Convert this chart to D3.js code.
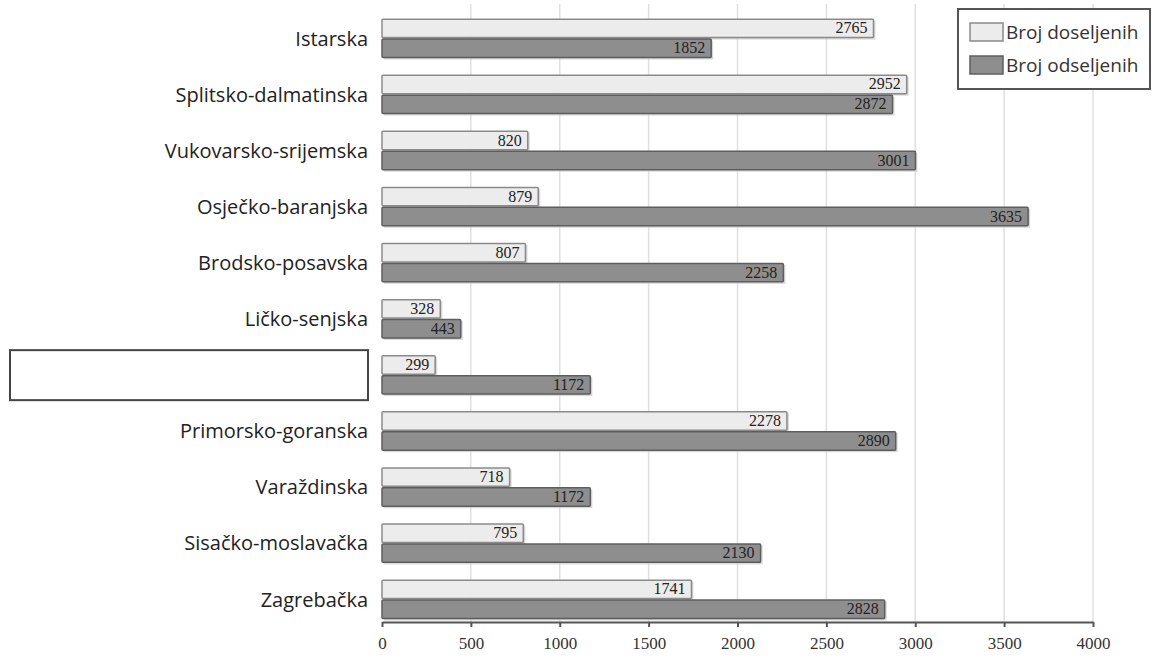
<!DOCTYPE html>
<html>
<head>
<meta charset="utf-8">
<script src="https://cdn.jsdelivr.net/npm/d3@7"></script>
<style>
  body { margin: 0; background: #fff; }
  svg { display: block; }
</style>
</head>
<body>
<svg id="chart" width="1152" height="657"></svg>
<script>
// counties, top to bottom (7th label is covered by an empty box in the original)
var counties = ["Istarska", "Splitsko-dalmatinska", "Vukovarsko-srijemska", "Osječko-baranjska",
	"Brodsko-posavska", "Ličko-senjska", "", "Primorsko-goranska", "Varaždinska",
	"Sisačko-moslavačka", "Zagrebačka"]
var doseljeni = [2765, 2952, 820, 879, 807, 328, 299, 2278, 718, 795, 1741]
var odseljeni = [1852, 2872, 3001, 3635, 2258, 443, 1172, 2890, 1172, 2130, 2828]
var seriesNames = ["Broj doseljenih", "Broj odseljenih"]
var xTicks = [0, 500, 1000, 1500, 2000, 2500, 3000, 3500, 4000]

var svg = d3.select("#chart")
var fills = ["#ececec", "#8e8e8e"]
var strokes = ["#8a8a8a", "#5e5e5e"]

var x = d3.scaleLinear().domain([0, 4000]).range([382, 1093])
var y = d3.scaleBand().domain(counties).range([10.5, 627.6]).paddingInner(0.29).paddingOuter(0.145)
var ySub = d3.scaleBand().domain([0, 1]).range([0, y.bandwidth()]).padding(0)
var axisY = 622

var rows = counties.map(function(c, i){
	return {name: c, values: [doseljeni[i], odseljeni[i]]}
})

// grid
svg.append("g").selectAll("line")
	.data(xTicks.slice(1))
.enter().append("line")
	.attr("x1", function(d){ return x(d) }).attr("x2", function(d){ return x(d) })
	.attr("y1", 4).attr("y2", axisY)
	.attr("stroke", "#e0e0e0").attr("stroke-width", 1.5)

// bars
var groups = svg.append("g").selectAll(".grp")
	.data(rows)
.enter().append("g")
	.classed("grp", true)
	.attr("transform", function(d){ return "translate(0," + y(d.name) + ")" })

var bars = groups.selectAll(".bar")
	.data(function(d){ return d.values.map(function(v, k){ return {v: v, k: k} }) })
.enter().append("g").classed("bar", true)

// soft shadow
bars.append("rect")
	.attr("x", x(0) + 2)
	.attr("y", function(d){ return ySub(d.k) + 2 })
	.attr("width", function(d){ return x(d.v) - x(0) })
	.attr("height", ySub.bandwidth() - 1)
	.attr("fill", "#c8c8c8").attr("opacity", 0.7)

bars.append("rect")
	.attr("x", x(0))
	.attr("y", function(d){ return ySub(d.k) + 0.5 })
	.attr("width", function(d){ return x(d.v) - x(0) })
	.attr("height", ySub.bandwidth() - 1.5)
	.attr("fill", function(d){ return fills[d.k] })
	.attr("stroke", function(d){ return strokes[d.k] })
	.attr("stroke-width", 1.5)
	.attr("rx", 1)

bars.append("text")
	.attr("x", function(d){ return x(d.v) - 6 })
	.attr("y", function(d){ return ySub(d.k) + ySub.bandwidth() / 2 })
	.attr("dy", "0.3em")
	.attr("text-anchor", "end")
	.attr("font-family", "Liberation Serif, serif")
	.attr("font-size", 16)
	.attr("fill", "#222")
	.text(function(d){ return d.v })

// category labels
svg.append("g").selectAll("text")
	.data(counties)
.enter().append("text")
	.attr("x", 368)
	.attr("y", function(d){ return y(d) + y.bandwidth() / 2 })
	.attr("dy", "0.35em")
	.attr("text-anchor", "end")
	.attr("font-family", "Open Sans, sans-serif")
	.attr("font-size", 20)
	.attr("fill", "#222")
	.text(function(d){ return d })

// covered label box
var hidden = counties[6]
svg.append("rect")
	.attr("x", 10).attr("y", y(hidden) + y.bandwidth() / 2 - 25)
	.attr("width", 358).attr("height", 50)
	.attr("fill", "#fff").attr("stroke", "#444").attr("stroke-width", 2)

// x axis
var xAxis = d3.axisBottom(x).tickValues(xTicks).tickFormat(d3.format("d")).tickSize(5).tickSizeOuter(0)
var gx = svg.append("g").attr("transform", "translate(0," + axisY + ")").call(xAxis)
gx.select(".domain").attr("stroke", "#555").attr("stroke-width", 2)
gx.selectAll(".tick line").attr("stroke", "#555").attr("stroke-width", 2)
gx.selectAll(".tick text")
	.attr("font-family", "Liberation Serif, serif")
	.attr("font-size", 17)
	.attr("fill", "#333")
	.attr("y", 15)

// legend
var lg = svg.append("g")
lg.append("rect").attr("x", 958).attr("y", 9).attr("width", 192).attr("height", 80)
	.attr("fill", "#fff").attr("stroke", "#555").attr("stroke-width", 2)
var items = lg.selectAll(".item").data(seriesNames)
.enter().append("g").classed("item", true)
	.attr("transform", function(d, i){ return "translate(970," + (23 + i * 33) + ")" })
items.append("rect").attr("width", 33).attr("height", 18)
	.attr("fill", function(d, i){ return fills[i] })
	.attr("stroke", function(d, i){ return strokes[i] }).attr("stroke-width", 1.5)
items.append("text").attr("x", 36).attr("y", 9).attr("dy", "0.35em")
	.attr("font-family", "Open Sans, sans-serif").attr("font-size", 19)
	.attr("fill", "#333")
	.text(function(d){ return d })
</script>
</body>
</html>
